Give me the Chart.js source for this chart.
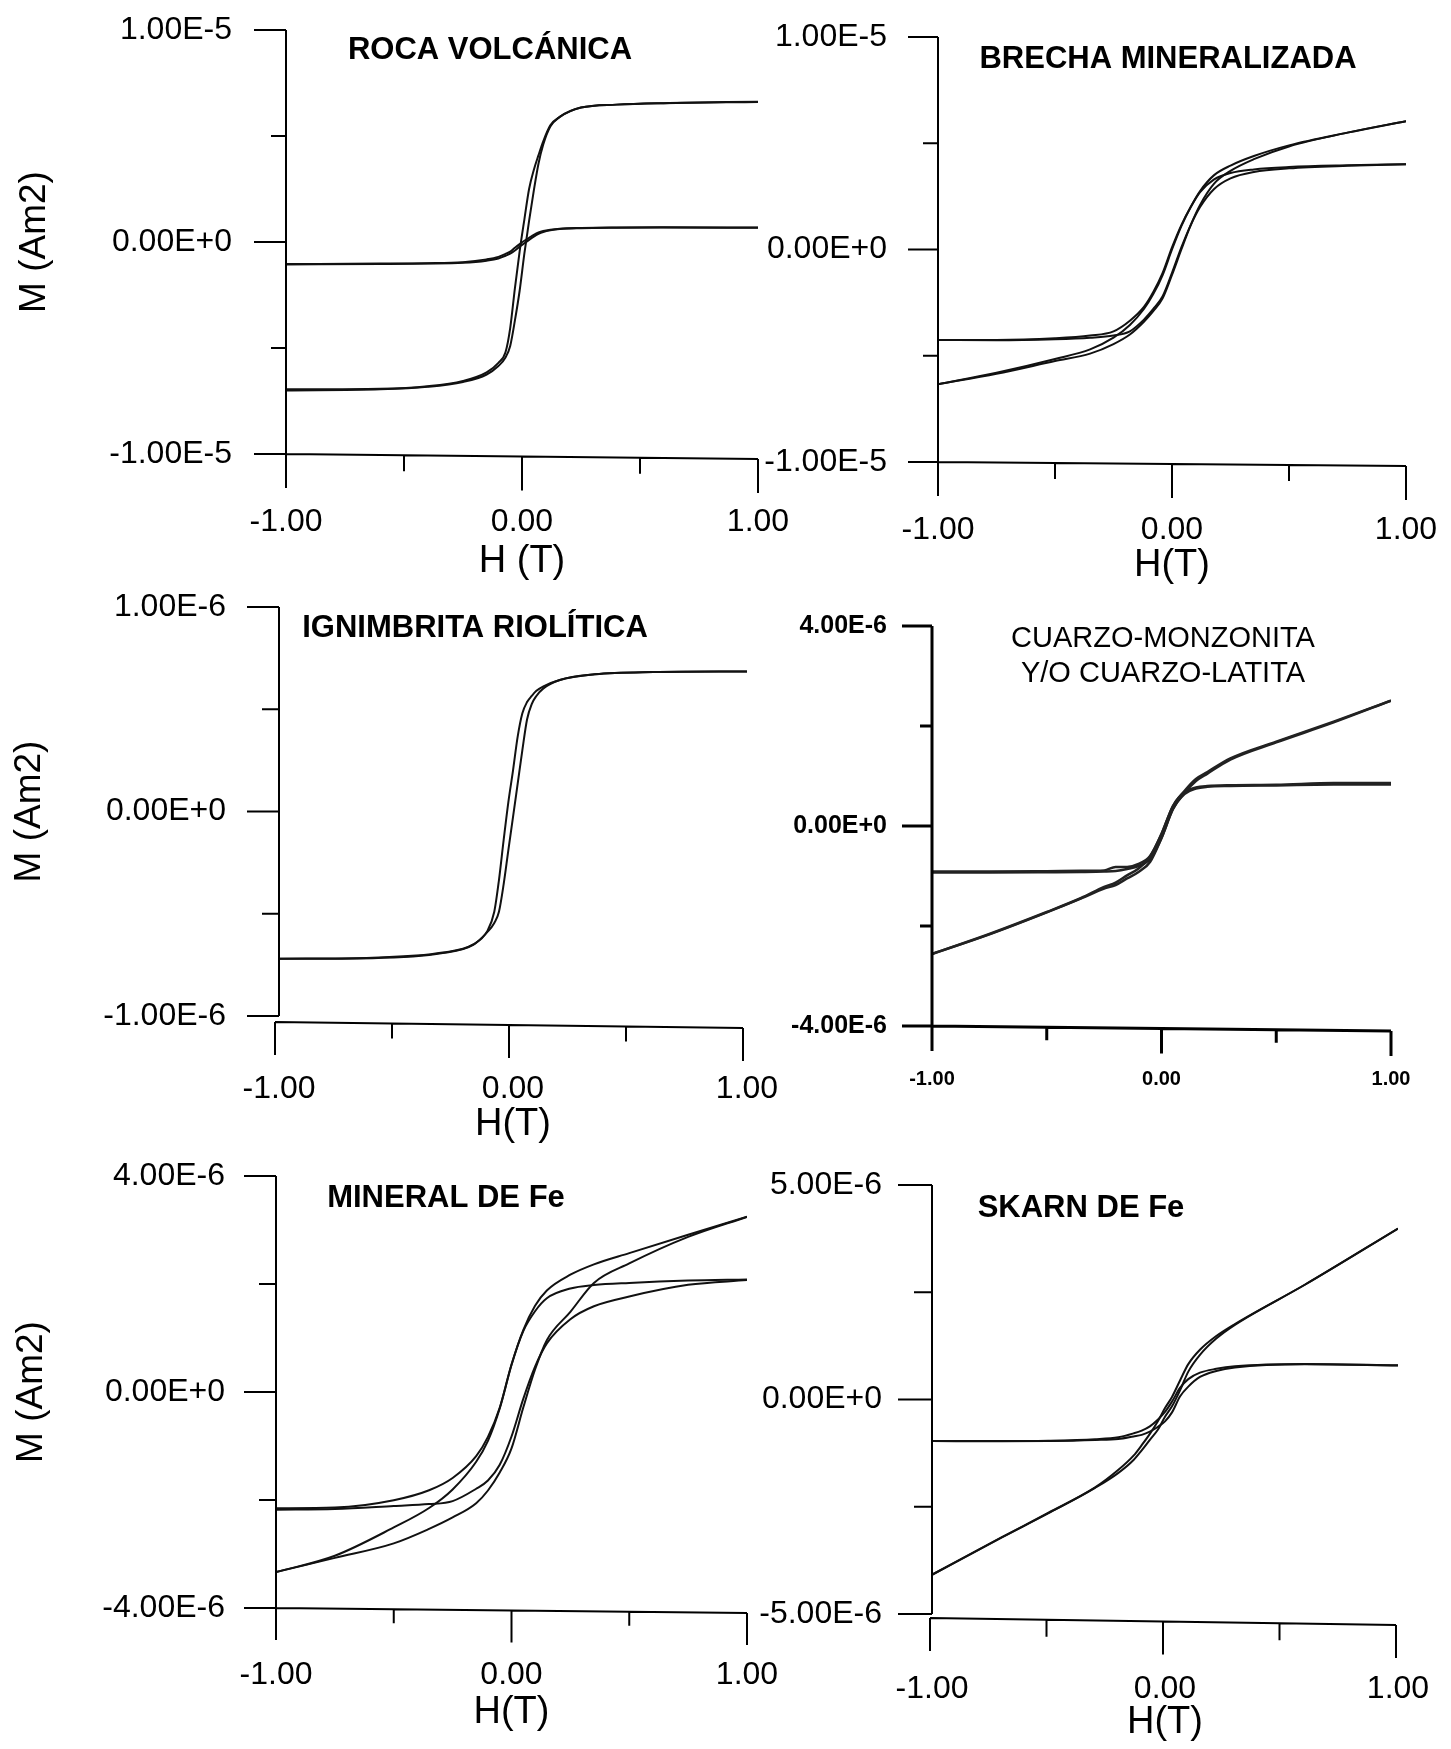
<!DOCTYPE html>
<html>
<head>
<meta charset="utf-8">
<title>Ciclos de histéresis</title>
<script src="https://cdn.jsdelivr.net/npm/chart.js@4.4.1/dist/chart.umd.min.js"></script>
<style>
    html, body { margin: 0; padding: 0; background: #fff; }
    #page { position: relative; width: 1451px; height: 1749px; overflow: hidden; background: #fff; }
    #page canvas { position: absolute; }
</style>
</head>
<body>
<div id="page"></div>
<script>
'use strict';

// H axis, shared by all panels
var hTicks = [-1, -0.5, 0, 0.5, 1];
var hLabels = ['-1.00', '', '0.00', '', '1.00'];

// ROCA VOLCÁNICA - M in units of 1e-5 Am2
var rocaH = [-1, -0.6, -0.4, -0.25, -0.15, -0.1, -0.07, -0.05, -0.03, -0.01, 0.01, 0.03, 0.05, 0.07, 0.09, 0.12, 0.16, 0.25, 0.4, 0.6, 1];
var rocaRawDown = [-0.695, -0.692, -0.68, -0.655, -0.615, -0.57, -0.52, -0.406, -0.217, -0.044, 0.106, 0.25, 0.34, 0.41, 0.475, 0.55, 0.59, 0.634, 0.648, 0.655, 0.66];
var rocaRawUp = [-0.70, -0.695, -0.683, -0.66, -0.625, -0.585, -0.545, -0.49, -0.37, -0.23, -0.055, 0.10, 0.242, 0.37, 0.46, 0.545, 0.59, 0.634, 0.648, 0.655, 0.662];
var rocaCorrDown = [-0.104, -0.102, -0.1, -0.095, -0.082, -0.07, -0.056, -0.045, -0.027, -0.01, 0.006, 0.02, 0.034, 0.045, 0.052, 0.058, 0.063, 0.066, 0.068, 0.069, 0.068];
var rocaCorrUp = [-0.106, -0.104, -0.102, -0.098, -0.088, -0.078, -0.065, -0.055, -0.04, -0.022, -0.006, 0.01, 0.025, 0.038, 0.047, 0.055, 0.061, 0.065, 0.067, 0.068, 0.067];
var rocaYTicks = [-1e-5, -5e-6, 0, 5e-6, 1e-5];
var rocaYLabels = ['-1.00E-5', '', '0.00E+0', '', '1.00E-5'];

// BRECHA MINERALIZADA - units of 1e-5 Am2
var brechaH = [-1, -0.75, -0.5, -0.35, -0.25, -0.18, -0.12, -0.08, -0.04, 0, 0.04, 0.08, 0.12, 0.18, 0.25, 0.35, 0.5, 0.75, 1];
var brechaRawDown = [-0.634, -0.58, -0.515, -0.47, -0.415, -0.355, -0.28, -0.21, -0.12, 0.0, 0.11, 0.2, 0.275, 0.35, 0.395, 0.44, 0.49, 0.55, 0.604];
var brechaRawUp = [-0.634, -0.585, -0.525, -0.49, -0.445, -0.4, -0.34, -0.29, -0.23, -0.12, 0.0, 0.115, 0.21, 0.31, 0.37, 0.425, 0.485, 0.55, 0.604];
var brechaCorrDown = [-0.426, -0.426, -0.418, -0.405, -0.385, -0.335, -0.27, -0.2, -0.11, 0.01, 0.115, 0.2, 0.27, 0.33, 0.36, 0.377, 0.388, 0.396, 0.401];
var brechaCorrUp = [-0.426, -0.427, -0.422, -0.415, -0.405, -0.385, -0.33, -0.28, -0.22, -0.11, 0.01, 0.115, 0.2, 0.285, 0.335, 0.365, 0.382, 0.394, 0.401];
var brechaYTicks = [-1e-5, -5e-6, 0, 5e-6, 1e-5];
var brechaYLabels = ['-1.00E-5', '', '0.00E+0', '', '1.00E-5'];

// IGNIMBRITA RIOLÍTICA - units of 1e-6 Am2
var ignH = [-1, -0.6, -0.3, -0.17, -0.11, -0.08, -0.06, -0.04, -0.02, 0, 0.02, 0.04, 0.06, 0.08, 0.1, 0.13, 0.2, 0.35, 0.6, 1];
var ignDown = [-0.72, -0.715, -0.69, -0.65, -0.585, -0.49, -0.335, -0.14, 0.045, 0.20, 0.366, 0.48, 0.535, 0.565, 0.59, 0.612, 0.643, 0.671, 0.682, 0.685];
var ignUp = [-0.72, -0.717, -0.692, -0.652, -0.59, -0.545, -0.49, -0.356, -0.19, -0.028, 0.136, 0.30, 0.45, 0.525, 0.565, 0.602, 0.643, 0.671, 0.682, 0.685];
var ignYTicks = [-1e-6, -5e-7, 0, 5e-7, 1e-6];
var ignYLabels = ['-1.00E-6', '', '0.00E+0', '', '1.00E-6'];

// CUARZO-MONZONITA Y/O CUARZO-LATITA - units of 4e-6 Am2
var cuarzoH = [-1, -0.75, -0.5, -0.35, -0.25, -0.2, -0.15, -0.1, -0.05, 0, 0.05, 0.1, 0.15, 0.2, 0.3, 0.5, 0.75, 1];
var cuarzoRawDown = [-0.64, -0.54, -0.43, -0.36, -0.305, -0.283, -0.247, -0.212, -0.155, -0.04, 0.1, 0.175, 0.235, 0.27, 0.338, 0.422, 0.522, 0.627];
var cuarzoRawUp = [-0.64, -0.542, -0.432, -0.362, -0.313, -0.295, -0.262, -0.23, -0.18, -0.06, 0.085, 0.165, 0.225, 0.262, 0.332, 0.418, 0.518, 0.627];
var cuarzoCorrDown = [-0.228, -0.228, -0.226, -0.224, -0.222, -0.205, -0.205, -0.19, -0.15, -0.04, 0.1, 0.17, 0.193, 0.2, 0.204, 0.206, 0.215, 0.215];
var cuarzoCorrUp = [-0.232, -0.232, -0.231, -0.23, -0.228, -0.225, -0.215, -0.2, -0.165, -0.06, 0.085, 0.16, 0.187, 0.196, 0.2, 0.203, 0.207, 0.208];
var cuarzoYTicks = [-4e-6, -2e-6, 0, 2e-6, 4e-6];
var cuarzoYLabels = ['-4.00E-6', '', '0.00E+0', '', '4.00E-6'];

// MINERAL DE Fe - units of 4e-6 Am2
var mineralH = [-1, -0.75, -0.5, -0.35, -0.25, -0.15, -0.1, -0.05, 0, 0.05, 0.1, 0.15, 0.25, 0.35, 0.5, 0.75, 1];
var mineralRawDown = [-0.834, -0.758, -0.627, -0.537, -0.451, -0.323, -0.226, -0.076, 0.125, 0.286, 0.399, 0.47, 0.543, 0.591, 0.643, 0.728, 0.811];
var mineralRawUp = [-0.834, -0.768, -0.701, -0.634, -0.581, -0.515, -0.456, -0.373, -0.261, -0.072, 0.104, 0.24, 0.371, 0.505, 0.595, 0.718, 0.811];
var mineralCorrDown = [-0.538, -0.535, -0.501, -0.455, -0.398, -0.297, -0.208, -0.073, 0.127, 0.282, 0.374, 0.434, 0.479, 0.495, 0.505, 0.516, 0.521];
var mineralCorrUp = [-0.545, -0.542, -0.528, -0.519, -0.505, -0.448, -0.41, -0.337, -0.206, -0.032, 0.117, 0.225, 0.337, 0.397, 0.442, 0.496, 0.518];
var mineralYTicks = [-4e-6, -2e-6, 0, 2e-6, 4e-6];
var mineralYLabels = ['-4.00E-6', '', '0.00E+0', '', '4.00E-6'];

// SKARN DE Fe - units of 5e-6 Am2
var skarnH = [-1, -0.7, -0.5, -0.3, -0.2, -0.135, -0.1, -0.065, -0.03, 0, 0.03, 0.065, 0.1, 0.15, 0.22, 0.3, 0.6, 1];
var skarnRawDown = [-0.817, -0.642, -0.528, -0.41, -0.328, -0.262, -0.213, -0.16, -0.1, -0.04, 0.012, 0.09, 0.165, 0.232, 0.296, 0.352, 0.535, 0.797];
var skarnRawUp = [-0.817, -0.643, -0.53, -0.412, -0.342, -0.282, -0.237, -0.188, -0.14, -0.08, -0.032, 0.044, 0.13, 0.208, 0.284, 0.348, 0.535, 0.797];
var skarnCorrDown = [-0.194, -0.194, -0.192, -0.185, -0.176, -0.158, -0.145, -0.125, -0.093, -0.058, -0.01, 0.055, 0.095, 0.125, 0.143, 0.155, 0.166, 0.16];
var skarnCorrUp = [-0.194, -0.195, -0.194, -0.189, -0.184, -0.172, -0.165, -0.15, -0.127, -0.102, -0.06, 0.015, 0.06, 0.105, 0.133, 0.149, 0.164, 0.158];
var skarnYTicks = [-5e-6, -2.5e-6, 0, 2.5e-6, 5e-6];
var skarnYLabels = ['-5.00E-6', '', '0.00E+0', '', '5.00E-6'];


var FONT = "'Liberation Sans', Arial, Helvetica, sans-serif";
var tickFont = { family: FONT, size: 32 };
var boldTitle = 'bold 31px ' + FONT;

// where each panel sits on the page (px)
var panels = [{
    H: rocaH, unit: 1e-5, branches: [rocaRawDown, rocaRawUp, rocaCorrDown, rocaCorrUp],
    yTicks: rocaYTicks, yLabels: rocaYLabels,
    title: ['ROCA VOLCÁNICA'], titleFont: boldTitle, titleX: 490, titleY: 50,
    x0: 286, x1: 758, yTop: 30, yBot: 454,
    yLabelGap: 54, xLabelY: 522, xTitle: 'H (T)', xTitleY: 562, yTitle: 'M (Am2)', yTitleX: 35,
    xAxis: { dx: 0, dyL: 0, dyR: 5 }, yMajor: 32, yMinor: 15, xMajor: 34, xMinor: 16
}, {
    H: brechaH, unit: 1e-5, branches: [brechaRawDown, brechaRawUp, brechaCorrDown, brechaCorrUp],
    yTicks: brechaYTicks, yLabels: brechaYLabels,
    title: ['BRECHA MINERALIZADA'], titleFont: boldTitle, titleX: 1168, titleY: 59,
    x0: 938, x1: 1406, yTop: 37, yBot: 462,
    yLabelGap: 51, xLabelY: 530, xTitle: 'H(T)', xTitleY: 566,
    xAxis: { dx: 0, dyL: 0, dyR: 4 }, yMajor: 30, yMinor: 15, xMajor: 34, xMinor: 16
}, {
    H: ignH, unit: 1e-6, branches: [ignDown, ignUp],
    yTicks: ignYTicks, yLabels: ignYLabels,
    title: ['IGNIMBRITA RIOLÍTICA'], titleFont: boldTitle, titleX: 475, titleY: 628,
    x0: 279, x1: 747, yTop: 607, yBot: 1016,
    yLabelGap: 53, xLabelY: 1089, xTitle: 'H(T)', xTitleY: 1125, yTitle: 'M (Am2)', yTitleX: 30,
    xAxis: { dx: -4, dyL: 6, dyR: 12 }, yMajor: 32, yMinor: 17, xMajor: 33, xMinor: 15
}, {
    H: cuarzoH, unit: 4e-6, branches: [cuarzoRawDown, cuarzoRawUp, cuarzoCorrDown, cuarzoCorrUp],
    yTicks: cuarzoYTicks, yLabels: cuarzoYLabels,
    title: ['CUARZO-MONZONITA', 'Y/O CUARZO-LATITA'], titleFont: '29px ' + FONT, titleX: 1163, titleY: 639, titleLead: 35,
    x0: 932, x1: 1391, yTop: 626, yBot: 1026,
    yLabelGap: 45, xLabelY: 1079,
    yFont: { family: FONT, size: 25, weight: 'bold' }, xFont: { family: FONT, size: 20, weight: 'bold' },
    axisWidth: 3, lineWidth: 2.5, lineColor: '#222',
    xAxis: { dx: 0, dyL: 0, dyR: 5 }, yMajor: 30, yMinor: 12, xMajor: 25, xMinor: 13
}, {
    H: mineralH, unit: 4e-6, branches: [mineralRawDown, mineralRawUp, mineralCorrDown, mineralCorrUp],
    yTicks: mineralYTicks, yLabels: mineralYLabels,
    title: ['MINERAL DE Fe'], titleFont: boldTitle, titleX: 446, titleY: 1198,
    x0: 276, x1: 747, yTop: 1176, yBot: 1608,
    yLabelGap: 51, xLabelY: 1675, xTitle: 'H(T)', xTitleY: 1713, yTitle: 'M (Am2)', yTitleX: 32,
    xAxis: { dx: 0, dyL: 0, dyR: 5 }, yMajor: 32, yMinor: 17, xMajor: 32, xMinor: 14
}, {
    H: skarnH, unit: 5e-6, branches: [skarnRawDown, skarnRawUp, skarnCorrDown, skarnCorrUp],
    yTicks: skarnYTicks, yLabels: skarnYLabels,
    title: ['SKARN DE Fe'], titleFont: boldTitle, titleX: 1081, titleY: 1208,
    x0: 932, x1: 1398, yTop: 1185, yBot: 1614,
    yLabelGap: 50, xLabelY: 1689, xTitle: 'H(T)', xTitleY: 1723,
    xAxis: { dx: -2, dyL: 4, dyR: 11 }, yMajor: 34, yMinor: 18, xMajor: 33, xMinor: 17
}];

// axis lines, tick marks and the panel name, placed with the chart's own scales
function framePlugin(p) {
    return {
        id: 'frame',
        afterDraw: function(chart) {
            var ctx = chart.ctx;
            var xs = chart.scales.x;
            var ys = chart.scales.y;
            var area = chart.chartArea;
            var xl = xs.getPixelForValue(hTicks[0]);
            var top = ys.getPixelForValue(p.yTicks[p.yTicks.length - 1]);
            var bot = ys.getPixelForValue(p.yTicks[0]);

            ctx.save();
            ctx.strokeStyle = '#000';
            ctx.lineWidth = p.axisWidth || 2;
            ctx.beginPath();
            ctx.moveTo(xl, top);
            ctx.lineTo(xl, bot);
            p.yTicks.forEach(function(v, i) {
                var y = ys.getPixelForValue(v);
                ctx.moveTo(xl, y);
                ctx.lineTo(xl - (p.yLabels[i] ? p.yMajor : p.yMinor), y);
            });

            // the scanned x axis sits slightly apart and tilted
            var a = p.xAxis;
            var xa = xs.getPixelForValue(hTicks[0]) + a.dx;
            var xb = xs.getPixelForValue(hTicks[hTicks.length - 1]) + a.dx;
            var ya = bot + a.dyL;
            var yb = bot + a.dyR;
            ctx.moveTo(xa, ya);
            ctx.lineTo(xb, yb);
            hTicks.forEach(function(v, i) {
                var x = xs.getPixelForValue(v) + a.dx;
                var y = ya + (yb - ya) * (x - xa) / (xb - xa);
                ctx.moveTo(x, y);
                ctx.lineTo(x, y + (hLabels[i] ? p.xMajor : p.xMinor));
            });
            ctx.stroke();

            ctx.fillStyle = '#000';
            ctx.font = p.titleFont;
            ctx.textAlign = 'center';
            ctx.textBaseline = 'middle';
            p.title.forEach(function(line, i) {
                ctx.fillText(line, p.titleX - p.x0 + area.left, p.titleY - p.yTop + area.top + i * (p.titleLead || 0));
            });
            ctx.restore();
        }
    };
}

function buildPanel(p) {
    // room around the plot box; tick padding must fit inside T and R
    var L = 270, T = 110, R = 110, B = 150;
    var w = L + (p.x1 - p.x0) + R;
    var h = T + (p.yBot - p.yTop) + B;
    var canvas = document.createElement('canvas');
    canvas.width = w;
    canvas.height = h;
    canvas.style.left = (p.x0 - L) + 'px';
    canvas.style.top = (p.yTop - T) + 'px';
    document.getElementById('page').appendChild(canvas);

    var xFont = p.xFont || tickFont;
    var yFont = p.yFont || tickFont;
    var xTitleFont = { family: FONT, size: 38 };
    var yTitleFont = { family: FONT, size: 37 };

    var datasets = p.branches.map(function(m) {
        return {
            data: p.H.map(function(hv, i) {
                return { x: hv, y: m[i] * p.unit };
            }),
            borderColor: p.lineColor || '#111',
            borderWidth: p.lineWidth || 2,
            pointRadius: 0,
            fill: false,
            cubicInterpolationMode: 'monotone'
        };
    });

    return new Chart(canvas, {
        type: 'line',
        data: { datasets: datasets },
        options: {
            responsive: false,
            animation: false,
            devicePixelRatio: 1,
            layout: { padding: { left: 0, top: T, right: R, bottom: 0 } },
            plugins: {
                legend: { display: false },
                tooltip: { enabled: false }
            },
            scales: {
                x: {
                    type: 'linear',
                    min: hTicks[0],
                    max: hTicks[hTicks.length - 1],
                    grid: { display: false, drawTicks: false },
                    border: { display: false },
                    afterBuildTicks: function(s) {
                        s.ticks = hTicks.map(function(v) { return { value: v }; });
                    },
                    afterFit: function(s) { s.height = B; },
                    ticks: {
                        autoSkip: false,
                        maxRotation: 0,
                        minRotation: 0,
                        color: '#000',
                        font: xFont,
                        padding: p.xLabelY - p.yBot - xFont.size * 0.6,
                        callback: function(v, i) { return hLabels[i]; }
                    },
                    title: {
                        display: !!p.xTitle,
                        text: p.xTitle || '',
                        color: '#000',
                        font: xTitleFont,
                        padding: { top: 0, bottom: p.yBot + B - xTitleFont.size * 0.6 - (p.xTitleY || 0) }
                    }
                },
                y: {
                    type: 'linear',
                    min: p.yTicks[0],
                    max: p.yTicks[p.yTicks.length - 1],
                    grid: { display: false, drawTicks: false },
                    border: { display: false },
                    afterBuildTicks: function(s) {
                        s.ticks = p.yTicks.map(function(v) { return { value: v }; });
                    },
                    afterFit: function(s) { s.width = L; },
                    ticks: {
                        autoSkip: false,
                        color: '#000',
                        font: yFont,
                        padding: p.yLabelGap,
                        callback: function(v, i) { return p.yLabels[i]; }
                    },
                    title: {
                        display: !!p.yTitle,
                        text: p.yTitle || '',
                        color: '#000',
                        font: yTitleFont,
                        padding: { top: (p.yTitleX || 0) - (p.x0 - L) - yTitleFont.size * 0.6, bottom: 0 }
                    }
                }
            }
        },
        plugins: [framePlugin(p)]
    });
}

panels.forEach(buildPanel);
</script>
</body>
</html>
